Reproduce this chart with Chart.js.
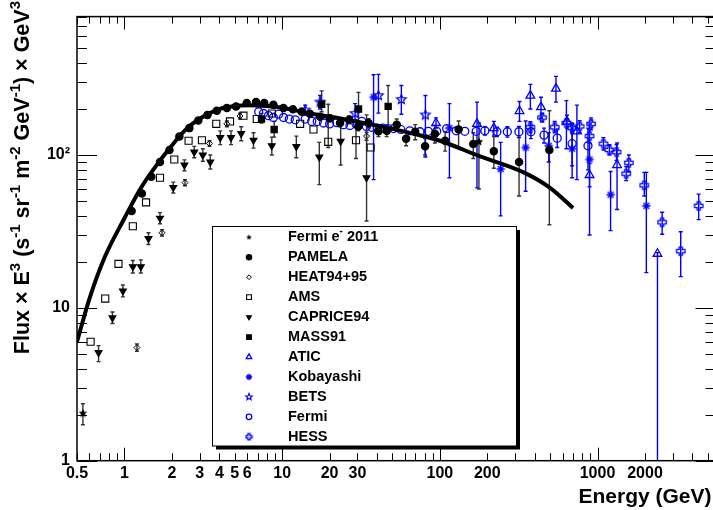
<!DOCTYPE html>
<html>
<head>
<meta charset="utf-8">
<script src="https://cdn.jsdelivr.net/npm/chart.js@4.4.1/dist/chart.umd.min.js"></script>
<style>
  html, body { margin: 0; padding: 0; background: #fff; overflow: hidden; }
  #wrap { width: 713px; height: 510px; overflow: hidden; }
  canvas { display: block; }
</style>
</head>
<body>
<div id="wrap"><canvas id="spectrum" width="726" height="510"></canvas></div>
<script>
// rows are [energy GeV, E^3 * flux, error low, error high] (error part optional)
const curveE = [0.5, 0.6, 0.75, 1.0, 1.26, 1.52, 1.95, 2.5, 3.15, 4, 5, 6, 8, 10, 15, 23, 42, 70, 100, 180, 340, 500, 700];
const curveF = [6.0, 11.5, 21.5, 38.6, 60, 80, 112, 150, 178, 200, 209, 212, 209, 204, 187, 174, 154, 137, 124, 98, 77, 61, 45];

const fermi2011 = [[0.545, 2.04, 1.72, 2.36], [177, 122, 60, 162]];

const pamela = [
  [1.11, 43, 41.5, 44.5], [1.29, 56, 54, 58], [1.48, 72, 70, 74], [1.68, 90, 87, 93],
  [1.93, 108, 105, 111], [2.23, 132, 128, 136], [2.58, 150, 146, 154], [2.94, 168, 163, 173],
  [3.36, 183, 178, 188], [3.85, 195, 190, 200], [4.46, 203, 197, 209], [5.1, 208, 202, 214],
  [5.96, 219, 212, 226], [6.83, 222, 215, 229], [7.7, 219, 212, 226], [8.8, 213, 206, 220],
  [10.2, 203, 196, 210], [11.7, 199, 192, 206], [13.3, 192, 185, 199], [15.0, 186, 178, 194],
  [17.4, 178, 170, 186], [20.1, 174, 165, 183], [23.3, 162, 153, 171], [26.6, 170, 160, 180],
  [30.4, 154, 144, 164], [35.3, 162, 151, 173], [40.8, 143, 132, 154], [46.0, 144, 132, 156],
  [53.3, 158, 144, 172], [61.1, 128, 115, 141], [69.8, 142, 126, 158], [80.6, 114, 100, 128],
  [93, 138, 120, 156], [108, 124, 106, 142], [131.5, 147, 112, 167], [163, 118, 95, 140],
  [220, 106, 82, 132], [318, 90, 54, 131], [495, 108, 35, 195]
];

const heat = [[1.2, 5.5, 5.2, 5.8], [1.73, 31, 29.5, 32.5], [2.42, 66, 63, 69], [3.46, 119, 114, 124],
  [4.46, 160, 153, 167], [5.4, 180, 172, 188], [34.3, 133, 125, 141]];

const ams = [[0.61, 6.0], [0.755, 11.5], [0.916, 19.4], [1.13, 34.2], [1.37, 49], [1.68, 71],
  [2.07, 93.5], [2.55, 124], [3.1, 125], [3.82, 160], [4.67, 166], [5.68, 181], [6.9, 172],
  [8.6, 187], [13, 160], [15.8, 147], [19.6, 122, 112, 215], [29.4, 125, 95, 154], [36.4, 112]];

const caprice = [
  [0.685, 5.1, 4.45, 5.66], [0.839, 8.6, 7.9, 9.4], [0.977, 12.9, 11.8, 14.1], [1.13, 18.6, 16.9, 20.4],
  [1.27, 18.6, 16.9, 20.6], [1.42, 28.4, 26, 31], [1.68, 38.6, 35.5, 42], [2.04, 61.3, 56.5, 66.5],
  [2.4, 86, 79, 93], [2.77, 104.5, 96, 114], [3.14, 100, 91, 110], [3.5, 90, 81, 100],
  [4.05, 130, 117, 144], [4.74, 130, 117, 144], [5.5, 138, 124, 153], [6.58, 125, 111, 140],
  [8.6, 115, 100, 131], [12.3, 113.5, 96, 133], [17.2, 97, 64, 121], [23.5, 123, 86, 166],
  [34.3, 71, 37, 183]
];

const mass91 = [[7.4, 172, 162, 187], [8.9, 147, 131, 166], [17.8, 215, 192, 263], [30.5, 200, 150, 257], [47, 208, 138, 285]];

const atic = [[94.6, 162, 150, 175], [172, 160, 61, 222], [220, 150, 135, 166], [320, 194, 166, 224],
  [375, 245, 200, 290], [438, 206, 174, 239], [545, 272, 222, 327], [640, 166, 150, 182],
  [740, 143, 69, 212], [890, 74, 62, 88], [1330, 86, 44, 120], [2400, 22.6, 0.9, 23]];

const kobayashi = [[38, 239, 69, 335], [115, 150, 71, 217], [243, 81, 40, 121], [350, 112, 58, 167],
  [490, 115, 90, 140], [690, 110, 71, 150], [890, 93.5, 30, 160], [1210, 55, 32, 78], [2040, 46.5, 17, 77]];

const bets = [[14, 197, 182, 212], [17.4, 222, 200, 245], [29, 187, 166, 217], [40.8, 245, 188, 337],
  [57, 231, 185, 285], [81, 183, 97, 245]];

const fermi = [
  [7.1, 192], [7.6, 187], [8.2, 181], [8.8, 176], [9.5, 185], [10.2, 176], [11.1, 172], [12.1, 170],
  [14.0, 172], [15.4, 166], [16.7, 166], [18.3, 162], [20, 160], [22.2, 163], [24.5, 158], [26.9, 156],
  [29.4, 160], [32, 166], [34.2, 154], [37, 152], [40.1, 150], [43.5, 150], [47, 149], [50.9, 149],
  [56.5, 147], [64.5, 144], [74.8, 142], [84.5, 143], [95.5, 143], [110.5, 149], [127, 144], [144, 143],
  [170, 143], [193, 144, 135, 153], [230, 142, 132, 152], [268, 142, 131, 153], [317, 142, 130, 154],
  [378, 142, 128, 156], [458, 135, 120, 150], [555, 129, 112, 146], [690, 118.6, 85, 160], [870, 115, 80, 150]
];

const hess = [[375, 152, 140, 165], [445, 176, 165, 188], [535, 152, 140, 166], [635, 162, 110, 227],
  [690, 150, 138, 162], [770, 154, 140, 168], [910, 160, 146, 175], [890, 133, 120, 147],
  [1090, 118.6, 108, 130], [1190, 108, 100, 117], [1320, 104.5, 92, 117], [1520, 75.5, 68, 84],
  [1580, 89, 78, 100], [1980, 63.4, 54, 77], [2570, 36.3, 30.3, 42.2], [3370, 23.5, 16, 31.5],
  [4380, 46.5, 37.8, 55.5]];

const xTickVals = [0.5, 1, 2, 3, 4, 5, 6, 10, 20, 30, 100, 200, 1000, 2000];
const yTickVals = [1, 10, 100];
const yTickText = ['1', '10', '10\u00b2'];

const FONT = '"Liberation Sans", Arial, Helvetica, sans-serif';
const BLUE = '#0000ff';

// little marker pictures for the ROOT styles chart.js doesn't have
function starMarker(r, fill, stroke) {
    const s = Math.ceil(r * 2 + 3);
    const c = document.createElement('canvas');
    c.width = c.height = s;
    const g = c.getContext('2d');
    g.beginPath();
    for (let i = 0; i < 10; i++) {
        const rr = i % 2 ? r * 0.45 : r;
        const a = -Math.PI / 2 + i * Math.PI / 5;
        g.lineTo(s / 2 + rr * Math.cos(a), s / 2 + rr * Math.sin(a));
    }
    g.closePath();
    if (fill) { g.fillStyle = fill; g.fill(); }
    if (stroke) { g.strokeStyle = stroke; g.lineWidth = 1.2; g.stroke(); }
    return c;
}

function openCross(r, color) {
    const s = Math.ceil(r * 2 + 3);
    const c = document.createElement('canvas');
    c.width = c.height = s;
    const g = c.getContext('2d');
    const m = s / 2, w = r * 0.38;
    g.beginPath();
    g.moveTo(m - w, m - r); g.lineTo(m + w, m - r); g.lineTo(m + w, m - w);
    g.lineTo(m + r, m - w); g.lineTo(m + r, m + w); g.lineTo(m + w, m + w);
    g.lineTo(m + w, m + r); g.lineTo(m - w, m + r); g.lineTo(m - w, m + w);
    g.lineTo(m - r, m + w); g.lineTo(m - r, m - w); g.lineTo(m - w, m - w);
    g.closePath();
    g.strokeStyle = color; g.lineWidth = 1.3; g.stroke();
    return c;
}

function asterisk(r, color) {
    const s = Math.ceil(r * 2 + 3);
    const c = document.createElement('canvas');
    c.width = c.height = s;
    const g = c.getContext('2d');
    const m = s / 2;
    g.strokeStyle = color; g.lineWidth = 1.3;
    g.beginPath();
    for (let i = 0; i < 4; i++) {
        const a = i * Math.PI / 4;
        g.moveTo(m - r * Math.cos(a), m - r * Math.sin(a));
        g.lineTo(m + r * Math.cos(a), m + r * Math.sin(a));
    }
    g.stroke();
    return c;
}

const pts = rows => rows.map(r => ({x: r[0], y: r[1]}));
const errs = rows => rows.filter(r => r.length > 2).map(r => [r[0], r[2], r[3]]);

function series(label, rows, color, style, radius, filled, extra) {
    return Object.assign({
        label: label,
        data: pts(rows),
        errs: errs(rows),
        barColor: color === BLUE ? BLUE : '#333',
        pointStyle: style,
        pointRadius: radius,
        pointBorderColor: color,
        pointBackgroundColor: filled ? color : 'rgba(0,0,0,0)',
        pointBorderWidth: 1.3,
        showLine: false,
        inLegend: true
    }, extra || {});
}

const datasets = [
    {
        label: 'model',
        data: curveE.map((e, i) => ({x: e, y: curveF[i]})),
        showLine: true,
        borderColor: '#000',
        borderWidth: 4,
        pointRadius: 0,
        cubicInterpolationMode: 'monotone',
        inLegend: false
    },
    series('Fermi e\u207b 2011', fermi2011, '#000', starMarker(4.5, '#000'), 5, true, {legendStyle: starMarker(3, '#000')}),
    series('PAMELA', pamela, '#000', 'circle', 3.6, true, {legendRadius: 2.6}),
    series('HEAT94+95', heat, '#000', 'rectRot', 3, false, {pointBorderWidth: 1, legendRadius: 2.4}),
    series('AMS', ams, '#000', 'rect', 5, false, {pointBorderWidth: 1.1, legendRadius: 3.4}),
    series('CAPRICE94', caprice, '#000', 'triangle', 3.8, true, {pointRotation: 180, legendRadius: 2.6}),
    series('MASS91', mass91, '#000', 'rect', 4.3, true, {legendRadius: 3.2}),
    series('ATIC', atic, BLUE, 'triangle', 5, false, {legendRadius: 3.2}),
    series('Kobayashi', kobayashi, BLUE, asterisk(4.2, BLUE), 5, false, {legendStyle: asterisk(3.2, BLUE)}),
    series('BETS', bets, BLUE, starMarker(5, null, BLUE), 5, false, {legendStyle: starMarker(3.4, null, BLUE)}),
    series('Fermi', fermi, BLUE, 'circle', 4, false, {legendRadius: 2.8}),
    series('HESS', hess, BLUE, openCross(4.2, BLUE), 5, false, {legendStyle: openCross(3, BLUE)})
];

const errorBars = {
    id: 'errorBars',
    beforeDatasetsDraw(chart) {
        const {ctx, chartArea: a, scales: {x, y}} = chart;
        ctx.save();
        ctx.beginPath();
        ctx.rect(a.left, a.top, a.right - a.left, a.bottom - a.top);
        ctx.clip();
        chart.data.datasets.forEach(ds => {
            if (!ds.errs) return;
            ctx.strokeStyle = ds.barColor;
            ctx.lineWidth = 1.4;
            ds.errs.forEach(([e, lo, hi]) => {
                const px = x.getPixelForValue(e);
                const p1 = y.getPixelForValue(lo), p2 = y.getPixelForValue(hi);
                ctx.beginPath();
                ctx.moveTo(px, p1); ctx.lineTo(px, p2);
                ctx.moveTo(px - 2, p1); ctx.lineTo(px + 2, p1);
                ctx.moveTo(px - 2, p2); ctx.lineTo(px + 2, p2);
                ctx.stroke();
            });
        });
        ctx.restore();
    }
};

// ROOT style frame with ticks pointing inwards on all four sides
const frameTicks = {
    id: 'frameTicks',
    afterDraw(chart) {
        const {ctx, chartArea: a, scales: {x, y}} = chart;
        ctx.save();
        ctx.strokeStyle = '#000';
        ctx.lineWidth = 1;
        ctx.beginPath();
        for (let n = -1; n <= 3; n++) {
            for (let k = 1; k <= 9; k++) {
                const v = k * Math.pow(10, n);
                if (v < x.min - 1e-9 || v > x.max) continue;
                const px = Math.round(x.getPixelForValue(v)) + 0.5;
                const big = k === 1;
                ctx.moveTo(px, a.bottom); ctx.lineTo(px, a.bottom - (big ? 13 : 7.5));
                ctx.moveTo(px, a.top); ctx.lineTo(px, a.top + (big ? 13 : 7));
            }
        }
        for (let n = 0; n <= 2; n++) {
            for (let k = 1; k <= 9; k++) {
                const v = k * Math.pow(10, n);
                if (v > y.max) continue;
                const py = Math.round(y.getPixelForValue(v)) + 0.5;
                const big = k === 1;
                ctx.moveTo(a.left, py); ctx.lineTo(a.left + (big ? 20 : 10), py);
                ctx.moveTo(a.right, py); ctx.lineTo(a.right - (big ? 20 : 10), py);
            }
        }
        ctx.stroke();
        ctx.lineWidth = 1.5;
        ctx.strokeRect(a.left, a.top, a.right - a.left, a.bottom - a.top);
        ctx.restore();
    }
};

function richText(ctx, parts, x, y, size) {
    let cx = x;
    parts.forEach(([t, sup]) => {
        ctx.font = 'bold ' + (sup ? Math.round(size * 0.68) : size) + 'px ' + FONT;
        ctx.fillText(t, cx, sup ? y - size * 0.42 : y);
        cx += ctx.measureText(t).width;
    });
    return cx - x;
}

const yTitle = [['Flux \u00d7 E', 0], ['3', 1], [' (s', 0], ['-1', 1], [' sr', 0], ['-1', 1], [' m', 0], ['-2', 1],
    [' GeV', 0], ['-1', 1], [') \u00d7 GeV', 0], ['3', 1]];

const titles = {
    id: 'titles',
    afterDraw(chart) {
        const ctx = chart.ctx;
        ctx.save();
        ctx.fillStyle = '#000';
        ctx.textBaseline = 'alphabetic';
        ctx.font = 'bold 21px ' + FONT;
        ctx.textAlign = 'right';
        ctx.fillText('Energy (GeV)', 711.5, 503);
        ctx.textAlign = 'left';
        ctx.translate(29, 0);
        ctx.rotate(-Math.PI / 2);
        // measure first, then end the title near the top edge
        ctx.globalAlpha = 0;
        const w = richText(ctx, yTitle, 0, 0, 21.5);
        ctx.globalAlpha = 1;
        richText(ctx, yTitle, -1 - w, 0, 21.5);
        ctx.restore();
    }
};

const legendBox = {
    id: 'legendBox',
    afterDraw(chart) {
        const ctx = chart.ctx;
        ctx.save();
        ctx.fillStyle = '#000';
        ctx.fillRect(216, 230, 304, 219.5);
        ctx.fillStyle = '#fff';
        ctx.fillRect(212.5, 226.5, 304, 219.5);
        ctx.strokeStyle = '#000';
        ctx.lineWidth = 1;
        ctx.strokeRect(212.5, 226.5, 304, 219.5);
        const items = chart.data.datasets.filter(d => d.inLegend);
        items.forEach((d, i) => {
            const yy = 237.3 + 19.95 * i;
            ctx.fillStyle = d.pointBackgroundColor;
            ctx.strokeStyle = d.pointBorderColor;
            ctx.lineWidth = d.pointBorderWidth;
            Chart.helpers.drawPoint(ctx, {
                pointStyle: d.legendStyle || d.pointStyle,
                radius: d.legendRadius || d.pointRadius,
                rotation: d.pointRotation || 0,
                borderWidth: d.pointBorderWidth
            }, 249, yy);
            ctx.fillStyle = '#000';
            ctx.textBaseline = 'middle';
            if (d.label.indexOf('\u207b') >= 0) {
                richText(ctx, [['Fermi e', 0], ['-', 1], [' 2011', 0]], 288, yy, 14.5);
            } else {
                ctx.font = 'bold 14.5px ' + FONT;
                ctx.fillText(d.label, 288, yy);
            }
        });
        ctx.restore();
    }
};

const ctx = document.getElementById('spectrum').getContext('2d');
const chart = new Chart(ctx, {
    type: 'scatter',
    data: {datasets: datasets},
    plugins: [errorBars, legendBox, frameTicks, titles],
    options: {
        responsive: false,
        animation: false,
        devicePixelRatio: 1,
        layout: {padding: {top: 1.5, right: 10.5, left: 0, bottom: 0}},
        plugins: {legend: {display: false}, tooltip: {enabled: false}},
        scales: {
            x: {
                type: 'logarithmic',
                min: 0.5,
                max: 5600,
                grid: {display: false, drawTicks: false},
                border: {display: false},
                afterBuildTicks: s => { s.ticks = xTickVals.map(v => ({value: v})); },
                afterFit: s => { s.height = 510 - 1.5 - 458.7 - 0.5; },
                ticks: {
                    autoSkip: false, maxRotation: 0, padding: 3, color: '#000',
                    font: {family: FONT, size: 16, weight: 'bold'},
                    callback: v => String(v)
                }
            },
            y: {
                type: 'logarithmic',
                min: 1,
                max: 805,
                grid: {display: false, drawTicks: false},
                border: {display: false},
                afterBuildTicks: s => { s.ticks = yTickVals.map(v => ({value: v})); },
                afterFit: s => { s.width = 77; },
                ticks: {
                    autoSkip: false, padding: 7, color: '#000',
                    font: {family: FONT, size: 16, weight: 'bold'},
                    callback: v => yTickText[yTickVals.indexOf(v)]
                }
            }
        }
    }
});
</script>
</body>
</html>
